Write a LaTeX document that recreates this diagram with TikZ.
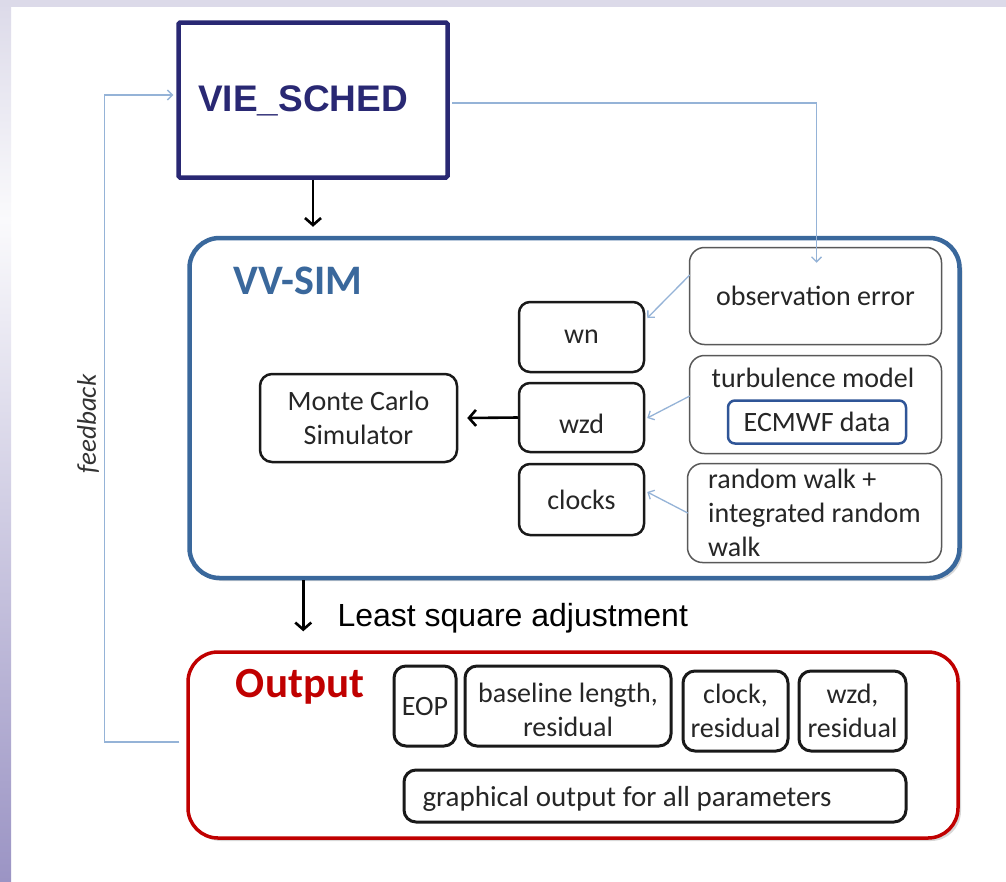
\documentclass[tikz,border=0pt]{standalone}
\usepackage{fontspec}
\setmainfont{Carlito}
\newfontfamily\arialf{Liberation Sans}
\usetikzlibrary{arrows.meta,calc,shadows}
\definecolor{navy}{RGB}{41,40,115}
\definecolor{vvblue}{RGB}{58,104,156}
\definecolor{lblue}{RGB}{149,179,215}
\definecolor{dred}{RGB}{192,0,0}
\definecolor{txt}{RGB}{38,38,38}
\definecolor{ecblue}{RGB}{47,85,151}
\definecolor{lavtop}{RGB}{220,218,233}
\definecolor{lavbot}{RGB}{155,148,196}
\definecolor{lavmid}{RGB}{250,250,252}
\begin{document}
\begin{tikzpicture}[x=1pt,y=-1pt,
  every node/.style={text=txt},
  cal/.style={font=\fontsize{28}{34}\selectfont},
  innerbox/.style={draw=black!90, line width=2.5pt, rounded corners=11pt, inner sep=0pt, cal},
  outbox/.style={draw=black!90, line width=3pt, rounded corners=12pt, inner sep=0pt, align=center, cal},
  sidebox/.style={draw=black!65, line width=1.5pt, rounded corners=15pt, inner sep=0pt, cal},
  bigbox/.style={line width=4.5pt, rounded corners=30pt, inner sep=0pt, fill=white,
    drop shadow={opacity=0.3, shadow xshift=3pt, shadow yshift=-3pt}},
  fbline/.style={draw=lblue, line width=1.3pt, -{Straight Barb[length=5pt,width=10pt]}},
  blk/.style={draw=black, line width=2.6pt, -{Straight Barb[length=7pt,width=16pt,line width=2.6pt]}},
]
\useasboundingbox (0,0) rectangle (1006,881);
% background
\fill[white] (0,0) rectangle (1006,881);
\shade[top color=lavtop, bottom color=lavmid] (0,0) rectangle (11,220);
\shade[top color=lavmid, bottom color=lavbot] (0,220) rectangle (11,881);
\fill[lavtop] (0,0) rectangle (1006,7);

% VIE_SCHED
\node[draw=navy, line width=4.5pt, rounded corners=1.5pt, fill=white,
      minimum width=269pt, minimum height=155pt, inner sep=0pt] (vie) at (313,100) {};
\node[font=\arialf\bfseries\fontsize{37}{40}\selectfont, text=navy] (viet) at (303,101) {VIE\_SCHED};

% big containers
\node[bigbox, draw=vvblue, minimum width=770pt, minimum height=340pt] (vvsim) at (574.5,408) {};
\node[font=\bfseries\fontsize{42}{46}\selectfont, text=vvblue] (vvt) at (298,281) {VV-SIM};

\node[bigbox, draw=dred, line width=3.5pt, minimum width=770pt, minimum height=186pt] (out) at (573,745) {};
\node[font=\bfseries\fontsize{43}{46}\selectfont, text=dred] (outt) at (300,687) {Output};

% VV-SIM content
\node[innerbox, minimum width=197pt, minimum height=88pt, align=center, rounded corners=12pt] (mc) at (358.5,418) {Monte Carlo\\Simulator};
\node[innerbox, minimum width=125pt, minimum height=70pt] (wn) at (581.5,337) {wn};
\node[innerbox, minimum width=125pt, minimum height=69pt, text height=32pt, text depth=0pt] (wzd) at (581.5,417.5) {wzd};
\node[innerbox, minimum width=125pt, minimum height=71pt] (clocks) at (581.5,499.5) {clocks};

\node[sidebox, minimum width=252pt, minimum height=97pt] (obs) at (815.5,296) {observation error};
\node[sidebox, minimum width=252pt, minimum height=98pt] (turb) at (815.5,404.5) {};
\node[cal] (turbt) at (813,378) {turbulence model};
\node[draw=ecblue, line width=2.5pt, rounded corners=7pt, inner sep=0pt, cal,
      minimum width=178pt, minimum height=43pt] (ecmwf) at (817,422) {ECMWF data};
\node[sidebox, minimum width=254pt, minimum height=99pt, align=left] (rw) at (814.5,513) {random walk +\\integrated random\\walk};

% Output content
\node[outbox, minimum width=62pt, minimum height=80pt] (eop) at (425,706) {EOP};
\node[outbox, minimum width=206pt, minimum height=80pt] (bl) at (568,706) {};
\node[cal, align=center] (blt) at (568,710) {baseline length,\\residual};
\node[outbox, minimum width=105pt, minimum height=80pt] (clk) at (735.5,711) {clock,\\residual};
\node[outbox, minimum width=107pt, minimum height=80pt] (wzdr) at (852.5,711) {wzd,\\residual};
\node[outbox, minimum width=502pt, minimum height=52pt] (gr) at (655,796) {};
\node[cal, anchor=west, font=\fontsize{29}{34}\selectfont] (grt) at (419,799) {graphical output for all parameters};

% labels
\node[font=\arialf\fontsize{32}{36}\selectfont, text=black, anchor=west] (lsa) at (334,618) {Least square adjustment};
\node[font=\itshape\fontsize{27}{30}\selectfont, rotate=90, text=black!80] (fbt) at (88,424) {feedback};

% connectors
\draw[fbline] ($(out.west)+(-7,-3)$) -- ++(-75,0) |- ($(vie.west)+(-3,-5)$);
\draw[fbline] ($(vie.east)+(2.5,3)$) -| ($(obs.north)+(1,16)$);
\draw[fbline] ($(obs.west)+(1,-21)$) -- ($(wn.east)+(2,-19)$);
\draw[fbline] ($(turb.west)+(1,-8.5)$) -- ($(wzd.east)+(2,0.5)$);
\draw[fbline] ($(rw.west)+(1,0)$) -- ($(clocks.east)+(2,-7.5)$);

\draw[blk] (vie.south) -- ($(vie.south |- vvsim.north)+(0,-9)$);
\draw[blk] (wzd.west) -- ($(mc.east)+(9,0)$);
\coordinate (lsaS) at ($(vvsim.south west)+(116,0)$);
\draw[blk] (lsaS) -- ($(lsaS |- out.north)+(0,-19)$);
\end{tikzpicture}
\end{document}
